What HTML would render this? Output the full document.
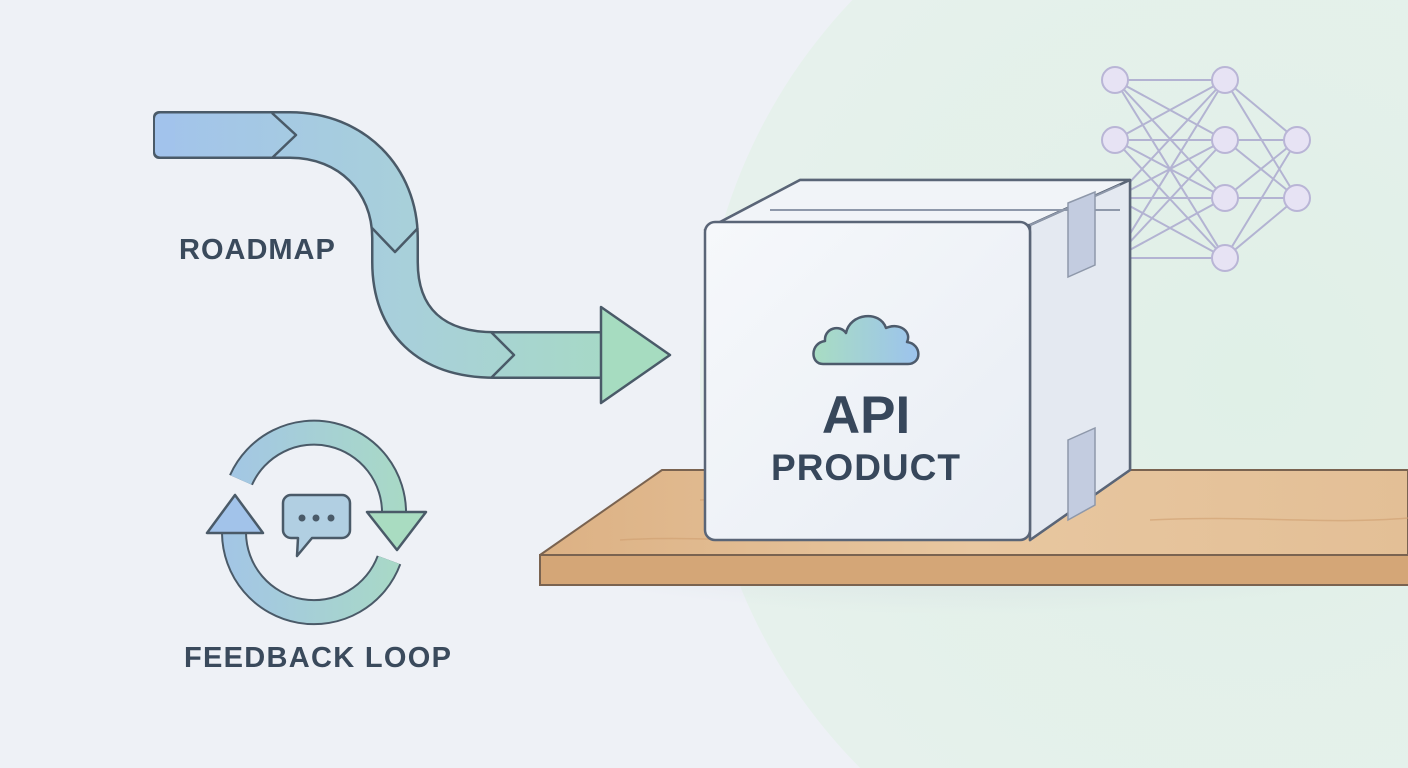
<!DOCTYPE html>
<html><head><meta charset="utf-8"><style>
html,body{margin:0;padding:0;width:1408px;height:768px;overflow:hidden;background:#eef1f6}
svg{display:block;overflow:hidden}
</style></head><body>
<svg width="1408" height="768" viewBox="0 0 1408 768" xmlns="http://www.w3.org/2000/svg">
<defs>
<radialGradient id="bgc" cx="1250" cy="380" r="550" gradientUnits="userSpaceOnUse">
<stop offset="0" stop-color="#e0f0e7"/><stop offset="1" stop-color="#e6f1ec"/></radialGradient>
<linearGradient id="arr" x1="150" y1="0" x2="670" y2="0" gradientUnits="userSpaceOnUse">
<stop offset="0" stop-color="#a2c3ec"/><stop offset="0.5" stop-color="#a8d0da"/><stop offset="1" stop-color="#a6dcc0"/></linearGradient>
<linearGradient id="loop" x1="200" y1="0" x2="430" y2="0" gradientUnits="userSpaceOnUse">
<stop offset="0" stop-color="#a2c3ea"/><stop offset="1" stop-color="#a9dcc1"/></linearGradient>
<linearGradient id="cloud" x1="815" y1="0" x2="920" y2="0" gradientUnits="userSpaceOnUse">
<stop offset="0" stop-color="#a8dcc3"/><stop offset="1" stop-color="#9cc3ee"/></linearGradient>
<linearGradient id="front" x1="0" y1="0" x2="1" y2="1">
<stop offset="0" stop-color="#f6f8fb"/><stop offset="1" stop-color="#e8edf4"/></linearGradient>
<linearGradient id="shelfTop" x1="0" y1="0" x2="1" y2="0">
<stop offset="0" stop-color="#dcb184"/><stop offset="0.5" stop-color="#e8c7a0"/><stop offset="1" stop-color="#e3bf96"/></linearGradient>
<radialGradient id="shadow" cx="0.5" cy="0" r="0.6"><stop offset="0" stop-color="#c9cfdc" stop-opacity="0.6"/><stop offset="1" stop-color="#c9cfdc" stop-opacity="0"/></radialGradient>
</defs>
<rect width="1408" height="768" fill="#eef1f6"/>
<circle cx="1250" cy="380" r="550" fill="url(#bgc)"/>

<!-- neural net -->
<g stroke="#b3b3d2" stroke-width="2">
<line x1="1115" y1="80" x2="1225" y2="80"/><line x1="1115" y1="80" x2="1225" y2="140"/><line x1="1115" y1="80" x2="1225" y2="198"/><line x1="1115" y1="80" x2="1225" y2="258"/>
<line x1="1115" y1="140" x2="1225" y2="80"/><line x1="1115" y1="140" x2="1225" y2="140"/><line x1="1115" y1="140" x2="1225" y2="198"/><line x1="1115" y1="140" x2="1225" y2="258"/>
<line x1="1115" y1="198" x2="1225" y2="80"/><line x1="1115" y1="198" x2="1225" y2="140"/><line x1="1115" y1="198" x2="1225" y2="198"/><line x1="1115" y1="198" x2="1225" y2="258"/>
<line x1="1115" y1="258" x2="1225" y2="80"/><line x1="1115" y1="258" x2="1225" y2="140"/><line x1="1115" y1="258" x2="1225" y2="198"/><line x1="1115" y1="258" x2="1225" y2="258"/>
<line x1="1225" y1="80" x2="1297" y2="140"/><line x1="1225" y1="80" x2="1297" y2="198"/>
<line x1="1225" y1="140" x2="1297" y2="140"/><line x1="1225" y1="140" x2="1297" y2="198"/>
<line x1="1225" y1="198" x2="1297" y2="140"/><line x1="1225" y1="198" x2="1297" y2="198"/>
<line x1="1225" y1="258" x2="1297" y2="140"/><line x1="1225" y1="258" x2="1297" y2="198"/>
<g fill="#e7e3f4" stroke="#b9b5d6" stroke-width="2">
<circle cx="1115" cy="80" r="13"/><circle cx="1115" cy="140" r="13"/>
<circle cx="1225" cy="80" r="13"/><circle cx="1225" cy="140" r="13"/><circle cx="1225" cy="198" r="13"/><circle cx="1225" cy="258" r="13"/>
<circle cx="1297" cy="140" r="13"/><circle cx="1297" cy="198" r="13"/>
</g></g>

<!-- shelf -->
<ellipse cx="980" cy="600" rx="430" ry="70" fill="url(#shadow)"/>
<polygon points="540,555 662,470 1408,470 1408,555" fill="url(#shelfTop)" stroke="#7a6350" stroke-width="2" stroke-linejoin="round"/>
<rect x="540" y="555" width="870" height="30" fill="#d4a677" stroke="#7a6350" stroke-width="2"/>
<g stroke="#cf9e6f" stroke-width="1.5" fill="none" opacity="0.6">
<path d="M700 500 C800 495 900 505 1000 498"/><path d="M1150 520 C1250 515 1330 525 1408 518"/><path d="M620 540 C700 535 760 545 840 538"/>
</g>

<!-- box -->
<polygon points="705,230 800,180 1130,180 1130,470 1030,540 1030,225" fill="#e9edf4" stroke="#5a6577" stroke-width="2.5" stroke-linejoin="round"/>
<polygon points="705,230 800,180 1130,180 1030,225" fill="#f1f4f8" stroke="#5a6577" stroke-width="2.5" stroke-linejoin="round"/>
<polygon points="1030,225 1130,180 1130,470 1030,540" fill="#e4e9f1" stroke="#5a6577" stroke-width="2.5" stroke-linejoin="round"/>
<line x1="770" y1="210" x2="1120" y2="210" stroke="#8e98aa" stroke-width="2"/>
<line x1="1030" y1="225" x2="1120" y2="185" stroke="#8e98aa" stroke-width="2"/>
<polygon points="1068,203 1095,192 1095,265 1068,277" fill="#c3cce0" stroke="#8e98aa" stroke-width="1.5"/>
<polygon points="1068,440 1095,428 1095,505 1068,520" fill="#c3cce0" stroke="#8e98aa" stroke-width="1.5"/>
<rect x="705" y="222" width="325" height="318" rx="10" fill="url(#front)" stroke="#5a6577" stroke-width="2.5"/>
<path d="M823 364 C810 364 810 343 825 341 C824 328 840 324 846 333 C850 313 880 310 886 328 C900 322 912 332 907 342 C922 344 922 364 908 364 Z" fill="url(#cloud)" stroke="#4d5b6c" stroke-width="2.5" stroke-linejoin="round"/>
<text x="866" y="433" text-anchor="middle" font-family="Liberation Sans, sans-serif" font-weight="bold" font-size="53" fill="#37475b">API</text>
<text x="866" y="480" text-anchor="middle" font-family="Liberation Sans, sans-serif" font-weight="bold" font-size="37" letter-spacing="1" fill="#37475b">PRODUCT</text>

<!-- roadmap arrow -->
<path d="M160 135 H290 C352 135 395 180 395 238 V262 C395 320 430 355 495 355 H604" fill="none" stroke="#4a5a68" stroke-width="48" stroke-linejoin="round"/>
<rect x="153" y="111" width="20" height="48" rx="6" fill="#4a5a68"/>
<path d="M160 135 H290 C352 135 395 180 395 238 V262 C395 320 430 355 495 355 H606" fill="none" stroke="url(#arr)" stroke-width="43"/>
<rect x="155" y="113.5" width="20" height="43" rx="5" fill="#a2c3ec"/>
<polygon points="601,307 670,355 601,403" fill="#a6dcc0" stroke="#4a5a68" stroke-width="2.5" stroke-linejoin="round"/>
<g fill="none" stroke="#4a5a68" stroke-width="2.5" stroke-linejoin="round">
<polyline points="272,113 296,135 272,158"/>
<polyline points="372,228 395,252 418,228"/>
<polyline points="491,332 514,355 491,378"/>
</g>
<text x="179" y="259" font-family="Liberation Sans, sans-serif" font-weight="bold" font-size="29" letter-spacing="1" fill="#3a4a5c">ROADMAP</text>

<!-- feedback loop -->
<g fill="none" stroke-linecap="butt">
<path d="M241 480 A80 80 0 0 1 394 515" stroke="#4a5a68" stroke-width="26"/>
<path d="M241 480 A80 80 0 0 1 394 515" stroke="url(#loop)" stroke-width="22"/>
<path d="M389 560 A80 80 0 0 1 234 533" stroke="#4a5a68" stroke-width="26"/>
<path d="M389 560 A80 80 0 0 1 234 533" stroke="url(#loop)" stroke-width="22"/>
</g>
<polygon points="367,512 426,512 397,550" fill="#a9dcc1" stroke="#4a5a68" stroke-width="2.5" stroke-linejoin="round"/>
<polygon points="207,533 263,533 235,495" fill="#a2c3ea" stroke="#4a5a68" stroke-width="2.5" stroke-linejoin="round"/>
<path d="M291 495 H342 A8 8 0 0 1 350 503 V530 A8 8 0 0 1 342 538 H312 L297 556 L298 538 H291 A8 8 0 0 1 283 530 V503 A8 8 0 0 1 291 495 Z" fill="#b1cfe2" stroke="#4a5a68" stroke-width="2.5" stroke-linejoin="round"/>
<circle cx="302" cy="518" r="3.5" fill="#4a5a68"/><circle cx="316" cy="518" r="3.5" fill="#4a5a68"/><circle cx="331" cy="518" r="3.5" fill="#4a5a68"/>
<text x="184" y="667" font-family="Liberation Sans, sans-serif" font-weight="bold" font-size="29" letter-spacing="1.3" fill="#3a4a5c">FEEDBACK LOOP</text>
</svg>
</body></html>
